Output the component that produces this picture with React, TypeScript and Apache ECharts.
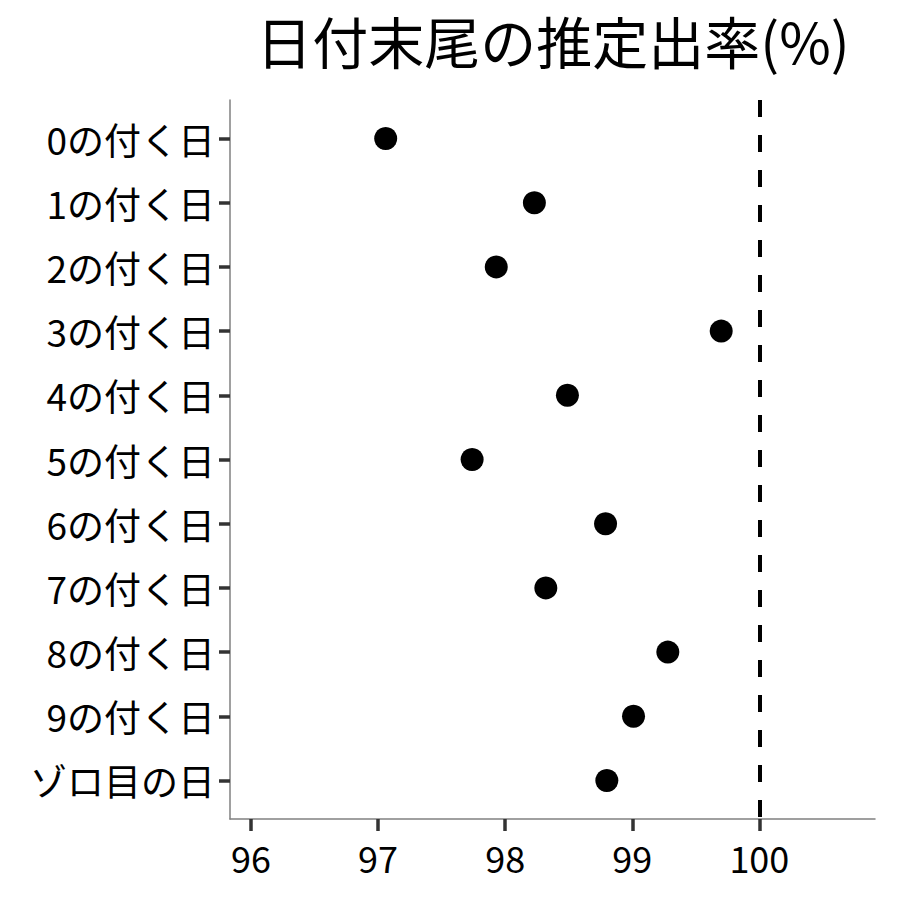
import { useEffect, useRef } from "react";
import * as echarts from "echarts";

const categories = [
  "0の付く日",
  "1の付く日",
  "2の付く日",
  "3の付く日",
  "4の付く日",
  "5の付く日",
  "6の付く日",
  "7の付く日",
  "8の付く日",
  "9の付く日",
  "ゾロ目の日",
];
const rates = [97.06, 98.23, 97.93, 99.7, 98.49, 97.74, 98.79, 98.32, 99.28, 99.01, 98.8];
const xTicks = [96, 97, 98, 99, 100];
const refLine = 100;

const FONT = '"Noto Sans CJK JP", "Noto Sans", sans-serif';

// plot panel (px) and the 0.6 band padding on the discrete axis
const TOP = 100;
const BOTTOM = 81;
const LEFT = 230;
const RIGHT = 25;
const PAD = 0.6;

function App() {
  const chartRef = useRef<HTMLDivElement>(null);

  useEffect(() => {
    if (!chartRef.current) return;
    const chart = echarts.init(chartRef.current, undefined, { renderer: "svg" });
    const n = categories.length;
    const unit = (900 - TOP - BOTTOM) / (n - 1 + 2 * PAD);
    const inset = (PAD - 0.5) * unit;

    chart.setOption({
      animation: false,
      backgroundColor: "#ffffff",
      textStyle: { fontFamily: FONT },
      title: {
        text: "日付末尾の推定出率(%)",
        left: 548,
        top: 6,
        textAlign: "center",
        textStyle: { fontFamily: FONT, fontSize: 56, fontWeight: "normal", color: "#000" },
      },
      grid: [
        { left: LEFT, right: RIGHT, top: TOP, bottom: BOTTOM },
        // same panel, shrunk so category centres land on the value axis integers
        { left: LEFT, right: RIGHT, top: TOP + inset, bottom: BOTTOM + inset },
      ],
      xAxis: [
        {
          type: "value",
          gridIndex: 0,
          min: 95.835,
          max: 100.91,
          axisLine: { show: true, onZero: false, lineStyle: { color: "#808080", width: 1.5 } },
          axisTick: {
            show: true,
            length: 12,
            customValues: xTicks,
            lineStyle: { color: "#333333", width: 3.5 },
          },
          axisLabel: {
            customValues: xTicks,
            fontSize: 36,
            color: "#000",
            margin: 20,
            fontFamily: FONT,
          },
          splitLine: { show: false },
        },
        {
          type: "value",
          gridIndex: 1,
          min: 95.835,
          max: 100.91,
          show: false,
        },
      ],
      yAxis: [
        {
          type: "value",
          gridIndex: 0,
          inverse: true,
          min: -PAD,
          max: n - 1 + PAD,
          axisLine: { show: true, onZero: false, lineStyle: { color: "#808080", width: 1.5 } },
          axisTick: { show: false },
          axisLabel: { show: false },
          splitLine: { show: false },
        },
        {
          type: "category",
          gridIndex: 1,
          data: categories,
          inverse: true,
          boundaryGap: true,
          axisLine: { show: false },
          axisTick: {
            show: true,
            alignWithLabel: true,
            length: 11,
            lineStyle: { color: "#333333", width: 3.5 },
          },
          axisLabel: {
            fontSize: 37,
            color: "#000",
            margin: 15,
            fontFamily: FONT,
          },
          splitLine: { show: false },
        },
      ],
      series: [
        {
          type: "scatter",
          xAxisIndex: 0,
          yAxisIndex: 0,
          data: rates.map((r, i) => [r, i]),
          symbol: "circle",
          symbolSize: 23,
          itemStyle: { color: "#000", opacity: 1 },
          markLine: {
            silent: true,
            symbol: "none",
            label: { show: false },
            lineStyle: { color: "#000", width: 4, type: [17, 18] },
            data: [{ xAxis: refLine }],
          },
        },
      ],
    });

    return () => {
      chart.dispose();
    };
  }, []);

  return (
    <div
      ref={chartRef}
      style={{ position: "absolute", left: 0, top: 0, width: "900px", height: "900px" }}
    />
  );
}

export default App;
